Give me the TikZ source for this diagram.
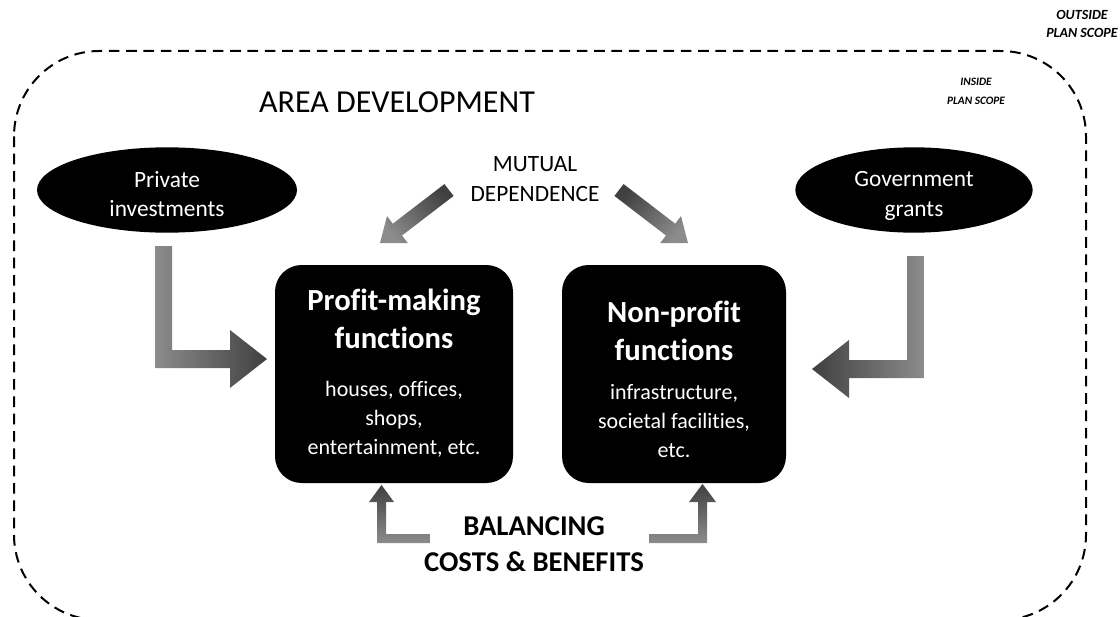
\documentclass[tikz,border=0pt]{standalone}
\usepackage{fontspec}
\setmainfont[Ligatures=CommonOff]{Carlito}
\usetikzlibrary{shapes.geometric}

\definecolor{arrowlight}{HTML}{8C8C8C}
\definecolor{arrowdark}{HTML}{404040}

\tikzset{every picture/.style={line width=0.75pt}}
\tikzset{
  fnbox/.style={fill=black, rounded corners=20pt, inner sep=0pt},
  fntitle/.style={text=white, font=\fontsize{23}{28.5}\selectfont\bfseries, align=center, inner sep=0.75pt},
  fnbody/.style={text=white, font=\fontsize{16.5}{21.75}\selectfont, align=center, inner sep=0.75pt},
  fundsrc/.style={ellipse, fill=black, inner sep=0pt, minimum height=64pt},
  fundtext/.style={text=white, font=\fontsize{17.5}{22}\selectfont, align=center, inner sep=0.75pt},
  scopelabel/.style={font=\bfseries\itshape, align=center, inner sep=0.75pt},
  plainlabel/.style={font=\fontsize{17.5}{22.5}\selectfont, align=center, inner sep=0.75pt},
  boldlabel/.style={font=\fontsize{21.5}{27}\selectfont\bfseries, align=center, inner sep=0.75pt}
}

\begin{document}
\begin{tikzpicture}[x=0.75pt,y=0.75pt,yscale=-1,xscale=1]
\clip (0,0) rectangle (1120,617);

%Rounded Rect [plan scope]
\draw [line width=1.5pt, dash pattern=on 8pt off 5pt, rounded corners=64pt] (14,51) rectangle (1086,620) ;

% Text Node
\node [scopelabel, font=\fontsize{10.5}{13}\selectfont\bfseries\itshape] (outside) at (1082,24) {OUTSIDE\\PLAN SCOPE};
% Text Node
\node [scopelabel, font=\fontsize{8.5}{14}\selectfont\bfseries\itshape] (inside) at (976,91) {INSIDE\\PLAN SCOPE};
% Text Node
\node [font=\fontsize{24}{28}\selectfont, inner sep=0.75pt] (area) at (397,102) {AREA DEVELOPMENT};

%Shape: Ellipse
\node [fundsrc, minimum width=195pt] (private) at (167,190) {};
\node [fundtext] (privatetext) at (167,194) {Private\\investments};
%Shape: Ellipse
\node [fundsrc, minimum width=178pt] (govt) at (914,190) {};
\node [fundtext] (govttext) at (914,196) {Government\\grants};

% Text Node
\node [plainlabel] (mutual) at (535,179) {MUTUAL\\DEPENDENCE};

%Rounded Rect
\node [fnbox, minimum width=178.5pt, minimum height=163.5pt] (profit) at (394,374) {};
%Rounded Rect
\node [fnbox, minimum width=168pt, minimum height=163.5pt] (nonprofit) at (674,374) {};

% Text Node
\node [fntitle] (profittitle) at (394,319) {Profit-making\\functions};
% Text Node
\node [fnbody] (profitbody) at (394,419) {houses, offices,\\shops,\\entertainment, etc.};
% Text Node
\node [fntitle] (nonprofittitle) at (674,331) {Non-profit\\functions};
% Text Node
\node [fnbody] (nonprofitbody) at (674,421) {infrastructure,\\societal facilities,\\etc.};

% Text Node
\node [boldlabel] (balancing) at (534,544) {BALANCING\\COSTS \& BENEFITS};

%Right Arrow [private investments]
\shade [left color=arrowlight, right color=arrowdark] (155,246) -- (172,246) -- (172,350) -- (230,350) -- (230,330) -- (267,359) -- (230,388) -- (230,368) -- (155,368) -- cycle ;
%Left Arrow [government grants]
\shade [left color=arrowdark, right color=arrowlight] (924,256) -- (907,256) -- (907,360) -- (849,360) -- (849,340) -- (812,369) -- (849,398) -- (849,378) -- (924,378) -- cycle ;

%Arrow [mutual, left]
\shade [top color=arrowdark, bottom color=arrowlight, shading angle=-50] (444.4,184.1) -- (392.8,223.7) -- (387.0,216.1) -- (380,243) -- (407.8,243.1) -- (402.0,235.5) -- (453.6,195.9) -- cycle ;
%Arrow [mutual, right]
\shade [top color=arrowdark, bottom color=arrowlight, shading angle=50] (623.6,184.1) -- (675.2,223.7) -- (681.0,216.1) -- (688,243) -- (660.2,243.1) -- (666.0,235.5) -- (614.4,195.9) -- cycle ;

%Up Arrow [balancing, left]
\shade [top color=arrowdark, bottom color=arrowlight] (430,534) -- (386,534) -- (386,502) -- (394,502) -- (381.5,485) -- (369,502) -- (377,502) -- (377,543) -- (430,543) -- cycle ;
%Up Arrow [balancing, right]
\shade [top color=arrowdark, bottom color=arrowlight] (649,534) -- (698,534) -- (698,502) -- (689,502) -- (702.5,484) -- (716,502) -- (707,502) -- (707,543) -- (649,543) -- cycle ;

\end{tikzpicture}
\end{document}
